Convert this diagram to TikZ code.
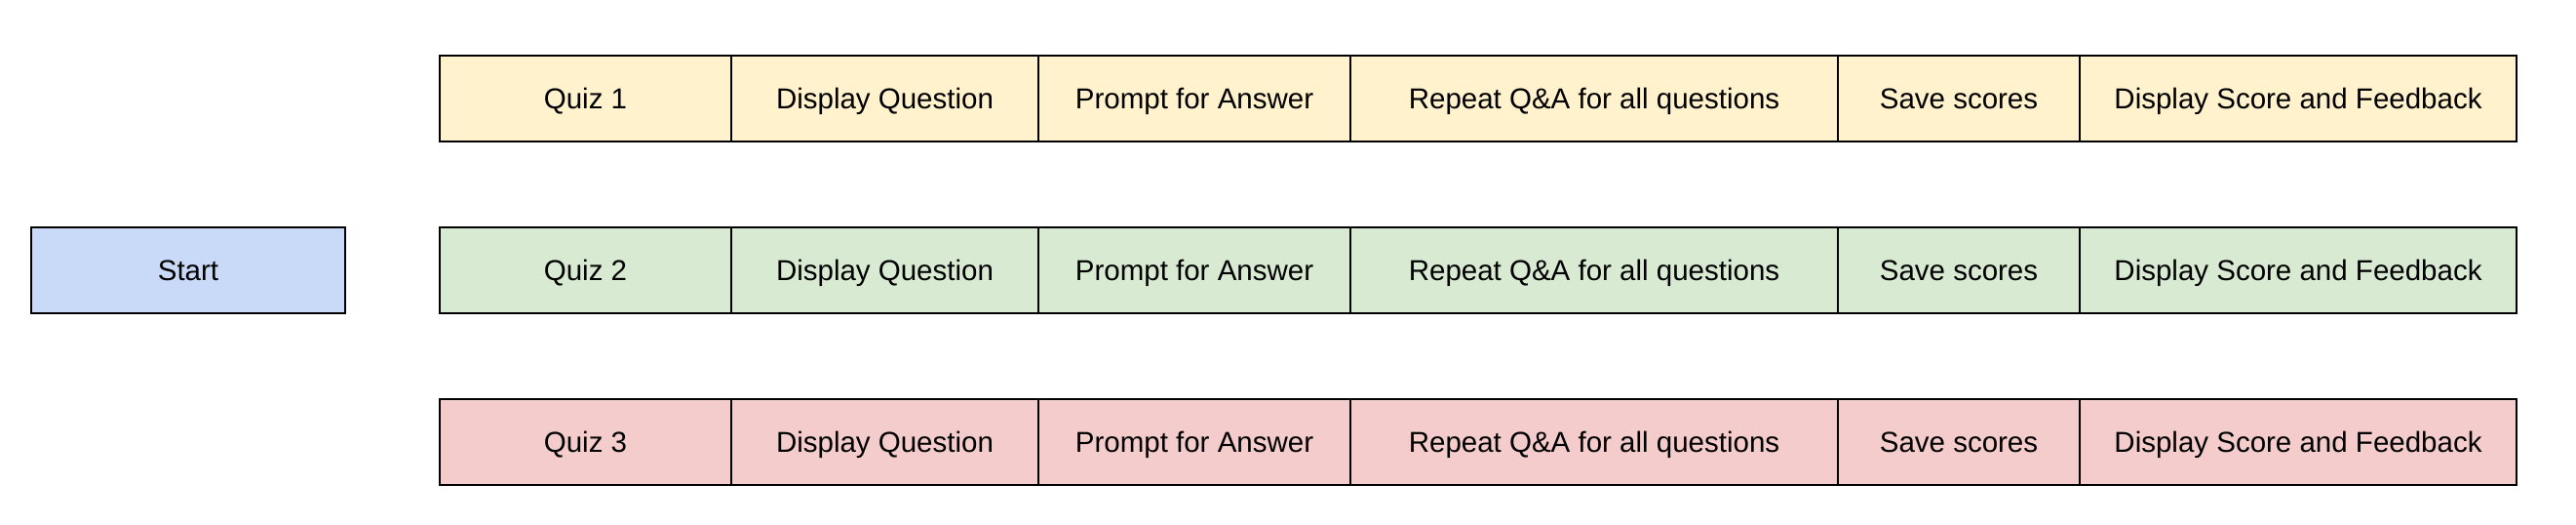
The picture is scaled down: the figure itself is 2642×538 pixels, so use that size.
\documentclass[tikz,border=0pt]{standalone}
\usepackage{fontspec}
\setmainfont{Liberation Sans}
\definecolor{qyellow}{HTML}{FFF2CC}
\definecolor{qgreen}{HTML}{D9EAD3}
\definecolor{qred}{HTML}{F4CCCC}
\definecolor{qblue}{HTML}{C9DAF8}
\tikzset{
  cell/.style={draw=black, line width=1.1pt, inner sep=0pt, outer sep=0pt,
    minimum height=88pt, text height=21pt, text depth=0pt,
    font=\fontsize{29.5}{35}\selectfont, text=black},
  outer/.style={draw=black, line width=2.2pt},
}
\begin{document}
\begin{tikzpicture}[x=1pt,y=-1pt]
\useasboundingbox[fill=white] (0,0) rectangle (2642,538);
% Start box
\node[cell, fill=qblue, minimum width=322pt, line width=2.2pt] (start) at (193,277) {Start};
% rows
\foreach \r/\col/\y in {1/qyellow/101, 2/qgreen/277, 3/qred/453} {
  \node[cell, fill=\col, minimum width=299pt] (r\r c1) at (600.5,\y) {Quiz \r};
  \node[cell, fill=\col, minimum width=315pt] (r\r c2) at (907.5,\y) {Display Question};
  \node[cell, fill=\col, minimum width=320pt] (r\r c3) at (1225,\y) {Prompt for Answer};
  \node[cell, fill=\col, minimum width=500pt] (r\r c4) at (1635,\y) {Repeat Q\&A for all questions};
  \node[cell, fill=\col, minimum width=248pt] (r\r c5) at (2009,\y) {Save scores};
  \node[cell, fill=\col, minimum width=448pt] (r\r c6) at (2357,\y) {Display Score and Feedback};
  \draw[outer] (r\r c1.north west) rectangle (r\r c6.south east);
}
\end{tikzpicture}
\end{document}
